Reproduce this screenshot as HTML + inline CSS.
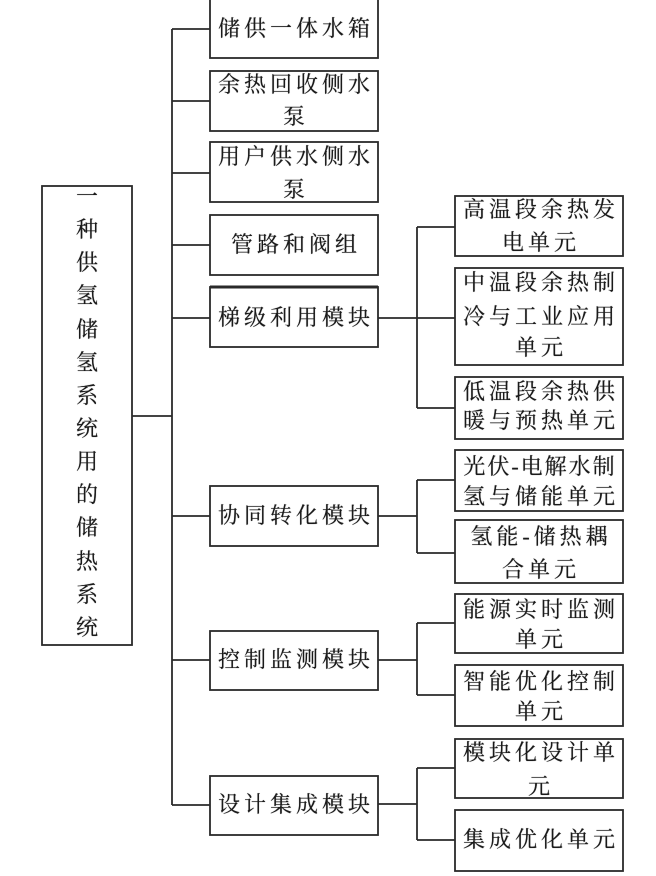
<!DOCTYPE html>
<html><head><meta charset="utf-8">
<style>
html,body{margin:0;padding:0;background:#fff;}
body{width:656px;height:876px;position:relative;overflow:hidden;}
svg{position:absolute;left:0;top:0;}
.t{position:absolute;height:30px;line-height:30px;text-align:center;white-space:nowrap;
font-family:"Liberation Serif","Noto Serif CJK SC","Noto Sans CJK SC",serif;font-size:22px;color:#1a1a1a;letter-spacing:4px;padding-left:4px;box-sizing:border-box;text-shadow:0 0 0.6px #333;}
.m{left:205px;width:178px;}
.r{left:447px;width:184px;}
.l{left:42px;width:90px;letter-spacing:0;padding-left:0;}
</style></head><body>
<svg width="656" height="876" viewBox="0 0 656 876">
<g fill="none" stroke="#2a2a2a" stroke-width="1.8">
<rect x="42" y="186" width="90" height="459"/>
<line x1="132" y1="416" x2="172" y2="416"/>
<line x1="172" y1="29" x2="172" y2="805"/>
<line x1="172" y1="29" x2="210" y2="29"/>
<line x1="172" y1="101" x2="210" y2="101"/>
<line x1="172" y1="173" x2="210" y2="173"/>
<line x1="172" y1="245" x2="210" y2="245"/>
<line x1="172" y1="318" x2="210" y2="318"/>
<line x1="172" y1="516" x2="210" y2="516"/>
<line x1="172" y1="660" x2="210" y2="660"/>
<line x1="172" y1="805" x2="210" y2="805"/>
<rect x="210" y="-4" width="168" height="62"/>
<rect x="210" y="71" width="168" height="60"/>
<rect x="210" y="142" width="168" height="60"/>
<rect x="210" y="215" width="168" height="60"/>
<rect x="210" y="287" width="168" height="60"/>
<line x1="210" y1="287" x2="378" y2="287" stroke-width="3"/>
<rect x="210" y="486" width="168" height="60"/>
<rect x="210" y="631" width="168" height="59"/>
<rect x="210" y="776" width="168" height="59"/>
<line x1="378" y1="318" x2="417" y2="318"/>
<line x1="378" y1="516" x2="417" y2="516"/>
<line x1="378" y1="660" x2="417" y2="660"/>
<line x1="378" y1="804" x2="417" y2="804"/>
<line x1="417" y1="227" x2="417" y2="408"/>
<line x1="417" y1="480" x2="417" y2="553"/>
<line x1="417" y1="623" x2="417" y2="695"/>
<line x1="417" y1="768" x2="417" y2="840"/>
<line x1="417" y1="227" x2="455" y2="227"/>
<line x1="417" y1="318" x2="455" y2="318"/>
<line x1="417" y1="408" x2="455" y2="408"/>
<line x1="417" y1="480" x2="455" y2="480"/>
<line x1="417" y1="553" x2="455" y2="553"/>
<line x1="417" y1="623" x2="455" y2="623"/>
<line x1="417" y1="695" x2="455" y2="695"/>
<line x1="417" y1="768" x2="455" y2="768"/>
<line x1="417" y1="840" x2="455" y2="840"/>
<rect x="455" y="196" width="168" height="60"/>
<rect x="455" y="268" width="168" height="97"/>
<rect x="455" y="377" width="168" height="62"/>
<rect x="455" y="450" width="168" height="61"/>
<rect x="455" y="520" width="168" height="63"/>
<rect x="455" y="594" width="168" height="59"/>
<rect x="455" y="665" width="168" height="61"/>
<rect x="455" y="739" width="168" height="59"/>
<rect x="455" y="810" width="168" height="61"/>
</g>
</svg>

<div class="t l" style="top:182px">一</div>
<div class="t l" style="top:215px">种</div>
<div class="t l" style="top:248px">供</div>
<div class="t l" style="top:281px">氢</div>
<div class="t l" style="top:315px">储</div>
<div class="t l" style="top:348px">氢</div>
<div class="t l" style="top:381px">系</div>
<div class="t l" style="top:414px">统</div>
<div class="t l" style="top:447px">用</div>
<div class="t l" style="top:480px">的</div>
<div class="t l" style="top:513px">储</div>
<div class="t l" style="top:547px">热</div>
<div class="t l" style="top:580px">系</div>
<div class="t l" style="top:613px">统</div>

<div class="t m" style="top:14px">储供一体水箱</div>
<div class="t m" style="top:70px">余热回收侧水</div>
<div class="t m" style="top:102px">泵</div>
<div class="t m" style="top:142px">用户供水侧水</div>
<div class="t m" style="top:175px">泵</div>
<div class="t m" style="top:230px">管路和阀组</div>
<div class="t m" style="top:303px">梯级利用模块</div>
<div class="t m" style="top:501px">协同转化模块</div>
<div class="t m" style="top:645px">控制监测模块</div>
<div class="t m" style="top:790px">设计集成模块</div>

<div class="t r" style="top:195px">高温段余热发</div>
<div class="t r" style="top:228px">电单元</div>
<div class="t r" style="top:268px">中温段余热制</div>
<div class="t r" style="top:302px">冷与工业应用</div>
<div class="t r" style="top:333px">单元</div>
<div class="t r" style="top:377px">低温段余热供</div>
<div class="t r" style="top:406px">暖与预热单元</div>
<div class="t r" style="top:452px;letter-spacing:2px;padding-left:2px">光伏-电解水制</div>
<div class="t r" style="top:482px">氢与储能单元</div>
<div class="t r" style="top:522px">氢能-储热耦</div>
<div class="t r" style="top:555px">合单元</div>
<div class="t r" style="top:595px">能源实时监测</div>
<div class="t r" style="top:625px">单元</div>
<div class="t r" style="top:667px">智能优化控制</div>
<div class="t r" style="top:697px">单元</div>
<div class="t r" style="top:738px">模块化设计单</div>
<div class="t r" style="top:772px">元</div>
<div class="t r" style="top:825px">集成优化单元</div>
</body></html>
